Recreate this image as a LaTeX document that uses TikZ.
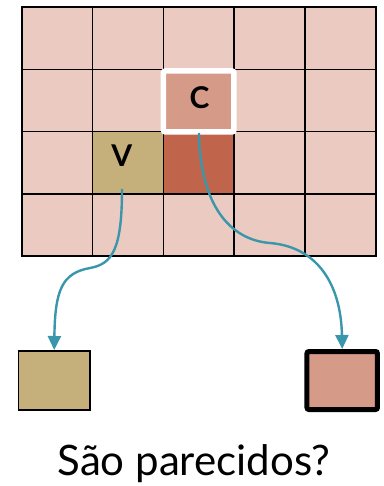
\documentclass[tikz,border=0pt]{standalone}
\usepackage{fontspec}
\setmainfont{Lato}
\usetikzlibrary{arrows.meta}
\definecolor{cellpink}{HTML}{EBCBC1}
\definecolor{celltan}{HTML}{C5B07C}
\definecolor{cellred}{HTML}{C0654B}
\definecolor{cellrose}{HTML}{D69A88}
\definecolor{linkteal}{HTML}{3A96AA}
\tikzset{
  cell/.style={draw, line width=1.6pt, fill=cellpink, inner sep=0pt,
    minimum width=70.8pt, minimum height=62.2pt},
  letter/.style={font=\fontsize{30}{30}\selectfont\bfseries, inner sep=0pt},
  link/.style={draw=linkteal, line width=2.4pt, -{Triangle[length=14pt,width=13pt]}},
}
\begin{document}
\begin{tikzpicture}[x=1pt, y=-1pt]
\useasboundingbox (0,0) rectangle (383,486);
\foreach \i in {0,...,4}{
  \foreach \j in {0,...,3}{
    \node[cell] (c\i\j) at ({21.7+70.8*(\i+0.5)},{7.3+62.2*(\j+0.5)}){};
  }
}
\node[cell, fill=celltan] (cellV) at (c12){};
\node[cell, fill=cellred] (cellR) at (c22){};
\node[draw=white, line width=5.5pt, rounded corners=2pt, fill=cellrose, inner sep=0pt,
  minimum width=70.5pt, minimum height=61pt] (cellC) at (198.7,101.5){};
\node[letter] (letterV) at (121.7,156){V};
\node[letter] (letterC) at (199.5,97.5){C};
\node[draw, line width=1.5pt, fill=celltan, inner sep=0pt,
  minimum width=71.7pt, minimum height=59.3pt] (boxV) at (54.2,380.4){};
\node[draw, line width=5pt, rounded corners=2pt, fill=cellrose, inner sep=0pt,
  minimum width=70.5pt, minimum height=58pt] (boxC) at (342.2,380.5){};
\coordinate (startV) at (122,189);
\coordinate (startC) at (199,133);
\draw[link] (startV) .. controls (122,250) and (112,264) .. (90,268)
  .. controls (62,273) and (55,290) .. (boxV.north);
\draw[link] (startC) .. controls (200,205) and (230,240) .. (270,243)
  .. controls (318,247) and (341,285) .. (boxC.north);
\node[anchor=base, font=\fontsize{42}{42}\selectfont] (question) at (194,475){São parecidos?};
\end{tikzpicture}
\end{document}
